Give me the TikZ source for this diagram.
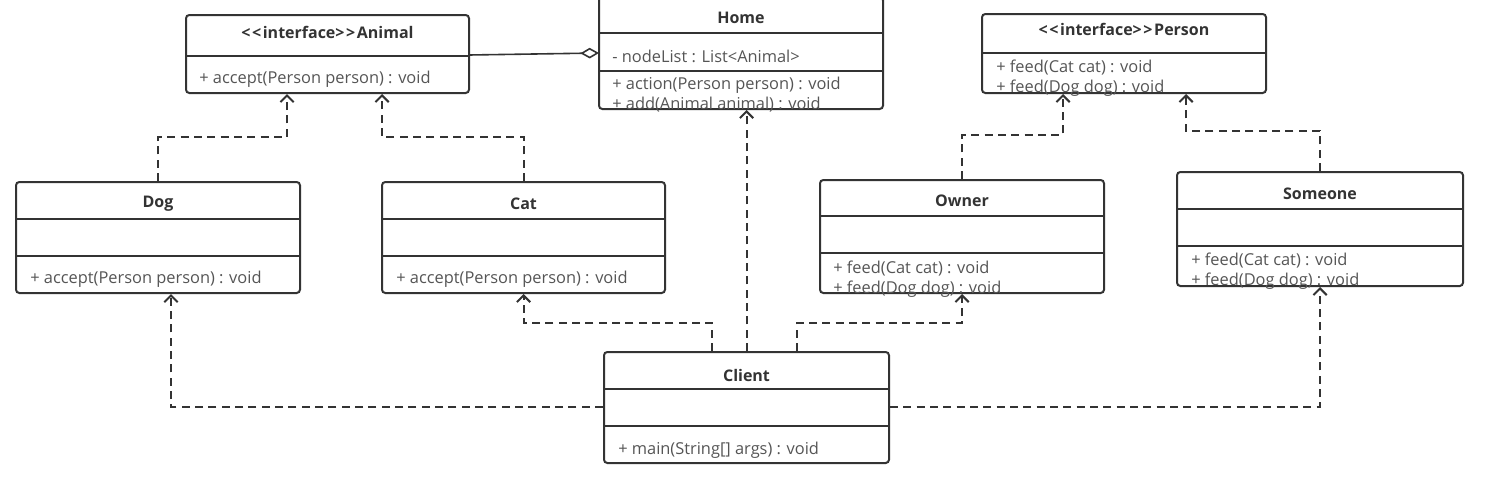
\documentclass[tikz,border=0pt]{standalone}
\usepackage{fontspec}
\setmainfont{Open Sans}[Ligatures=TeXOff]
\usetikzlibrary{arrows.meta,fit}
\definecolor{ln}{HTML}{333333}
\definecolor{tx}{HTML}{555555}
\newcommand\lt{<\kern1.2pt}
\newcommand\gt{>\kern1.2pt}
\tikzset{
  box/.style={draw=ln, line width=1.5pt, rounded corners=2.5pt, inner sep=0pt},
  sepline/.style={draw=ln, line width=1.5pt},
  ttl/.style={font=\bfseries\fontsize{12}{14}\selectfont, text=ln, inner sep=0pt},
  mem/.style={anchor=west, font=\fontsize{12.3}{14}\selectfont, text=tx, inner sep=0pt},
  dep/.style={draw=ln, line width=1.5pt, dash pattern=on 6pt off 4pt, -{Straight Barb[length=5pt,width=10pt]}},
  agg/.style={draw=ln, line width=1.2pt, {Diamond[open,length=14pt,width=8pt]}-}
}
\begin{document}
\begin{tikzpicture}[x=0.75pt,y=-0.75pt]
\useasboundingbox (0,0) rectangle (1492,486);
% Animal
\node[box, fit={(186,15)(469,93)}] (animal) {};
\draw[sepline] (186,56) -- (469,56);
\node[ttl] (animalT) at (327.5,32) {\lt\lt interface\gt\gt Animal};
\node[mem] (animalM) at (199,79) {+ accept(Person person) : void};
% Home
\node[box, fit={(599,-3)(883,109)}] (home) {};
\draw[sepline] (599,33) -- (883,33);
\draw[sepline] (599,71) -- (883,71);
\node[ttl] (homeT) at (741,18) {Home};
\node[mem] (homeA) at (612,56) {- nodeList : List<Animal>};
\node[mem] (homeM1) at (612,85) {+ action(Person person) : void};
\node[mem] (homeM2) at (612,105) {+ add(Animal animal) : void};
% Person
\node[box, fit={(982,14)(1266,93)}] (person) {};
\draw[sepline] (982,53) -- (1266,53);
\node[ttl] (personT) at (1124,29) {\lt\lt interface\gt\gt Person};
\node[mem] (personM1) at (996,68) {+ feed(Cat cat) : void};
\node[mem] (personM2) at (996,88) {+ feed(Dog dog) : void};
% Dog
\node[box, fit={(16,182)(300,293)}] (dog) {};
\draw[sepline] (16,219) -- (300,219);
\draw[sepline] (16,256) -- (300,256);
\node[ttl] (dogT) at (158,204) {Dog};
\node[mem] (dogM) at (30,279) {+ accept(Person person) : void};
% Cat
\node[box, fit={(382,182)(665,293)}] (cat) {};
\draw[sepline] (382,219) -- (665,219);
\draw[sepline] (382,256) -- (665,256);
\node[ttl] (catT) at (523.5,204) {Cat};
\node[mem] (catM) at (396,279) {+ accept(Person person) : void};
% Owner
\node[box, fit={(820,180)(1104,293)}] (owner) {};
\draw[sepline] (820,216) -- (1104,216);
\draw[sepline] (820,253) -- (1104,253);
\node[ttl] (ownerT) at (962,201) {Owner};
\node[mem] (ownerM1) at (833,269) {+ feed(Cat cat) : void};
\node[mem] (ownerM2) at (833,289) {+ feed(Dog dog) : void};
% Someone
\node[box, fit={(1177,172)(1463,286)}] (someone) {};
\draw[sepline] (1177,209) -- (1463,209);
\draw[sepline] (1177,246) -- (1463,246);
\node[ttl] (someoneT) at (1320,194) {Someone};
\node[mem] (someoneM1) at (1191,261) {+ feed(Cat cat) : void};
\node[mem] (someoneM2) at (1191,281) {+ feed(Dog dog) : void};
% Client
\node[box, fit={(604,352)(889,463)}] (client) {};
\draw[sepline] (604,389) -- (889,389);
\draw[sepline] (604,426) -- (889,426);
\node[ttl] (clientT) at (746.5,375) {Client};
\node[mem] (clientM) at (618,450) {+ main(String[] args) : void};
% connector bends
\coordinate (da) at (287,137);
\coordinate (ca) at (382,137);
\coordinate (op) at (1063,135);
\coordinate (sp) at (1186,131);
\coordinate (cc) at (712,323);
\coordinate (co) at (797,323);
\coordinate (cd) at (171,407);
\coordinate (cs) at (1320,407);
\coordinate (h1) at (599,53);
\coordinate (a1) at (469,55);
% aggregation
\draw[agg] (h1) -- (a1);
% realizations
\draw[dep] (dog.north) |- (da) -- (da |- animal.south);
\draw[dep] (cat.north) |- (ca) -- (ca |- animal.south);
\draw[dep] (owner.north) |- (op) -- (op |- person.south);
\draw[dep] (someone.north) |- (sp) -- (sp |- person.south);
% dependencies
\draw[dep] (client.north) -- (client.north |- home.south);
\draw[dep] (cc |- client.north) -- (cc) -| (cat.south);
\draw[dep] (co |- client.north) -- (co) -| (owner.south);
\draw[dep] (client.west |- cd) -- (cd) -- (cd |- dog.south);
\draw[dep] (client.east |- cs) -| (someone.south);
\end{tikzpicture}
\end{document}
